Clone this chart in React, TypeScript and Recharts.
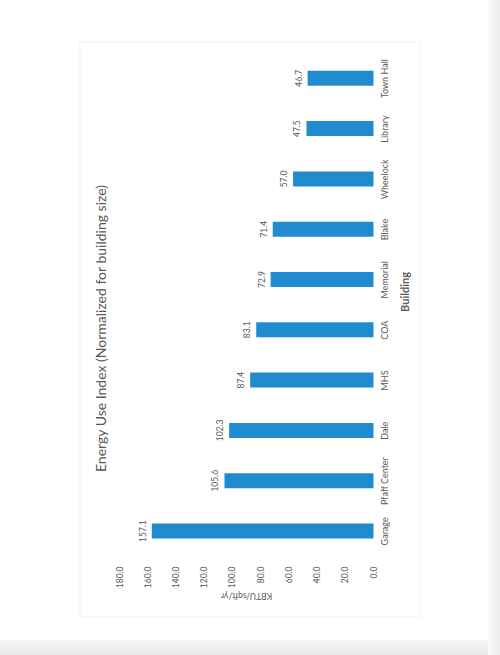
import { BarChart, Bar, XAxis, YAxis, LabelList, Label } from "recharts"

const buildings = ["Garage", "Pfaff Center", "Dale", "MHS", "COA", "Memorial", "Blake", "Wheelock", "Library", "Town Hall"]
const eui = [157.1, 105.6, 102.3, 87.4, 83.1, 72.9, 71.4, 57.0, 47.5, 46.7]
const valueTicks = [0, 20, 40, 60, 80, 100, 120, 140, 160, 180]

const data = buildings.map((name, i) => ({ name, eui: eui[i] }))

// the scanned page shows the chart turned a quarter turn, so it is drawn landscape and rotated
const W = 576
const H = 341
const FONT = "Lato, 'Open Sans', sans-serif"
const BLUE = "#1E8CCF"
const TEXT = "#595959"

export default function App() {
  return (
    <div style={{ position: "fixed", left: 0, top: 0, width: 500, height: 655, background: "#fff", overflow: "hidden" }}>
      <div style={{ position: "absolute", left: 0, right: 0, top: 640, bottom: 0, background: "linear-gradient(#f6f6f6, #e8e8e8)" }} />
      <div style={{ position: "absolute", left: 488, right: 0, top: 0, bottom: 0, background: "linear-gradient(90deg, #fbfbfb, #ececec)" }} />
      <div
        style={{
          position: "absolute",
          left: 79 + H / 2 - W / 2,
          top: 41 + W / 2 - H / 2,
          width: W,
          height: H,
          transform: "rotate(-90deg)",
          border: "1px solid #f2f2f2",
          boxSizing: "border-box",
          fontFamily: FONT,
        }}
      >
        <div
          style={{
            position: "absolute",
            top: 11,
            left: 0,
            width: W,
            textAlign: "center",
            fontSize: 14,
            color: TEXT,
            lineHeight: "18px",
          }}
        >
          Energy Use Index (Normalized for building size)
        </div>
        <BarChart width={W} height={H} data={data} margin={{ top: 39, right: 13, bottom: 8, left: 0 }} barSize={15}>
          <XAxis
            dataKey="name"
            axisLine={false}
            tickLine={false}
            interval={0}
            height={40}
            tick={{ fontSize: 9, fill: TEXT, fontFamily: FONT }}
          >
            <Label value="Building" position="insideBottom" offset={5} dx={13} style={{ fontSize: 11, fontWeight: 700, fill: TEXT, fontFamily: FONT }} />
          </XAxis>
          <YAxis
            domain={[0, 180]}
            ticks={valueTicks}
            width={60}
            axisLine={false}
            tickLine={false}
            tickMargin={4}
            tickFormatter={(v: number) => v.toFixed(1)}
            tick={{ fontSize: 8.5, fill: TEXT, fontFamily: FONT }}
          >
            <Label
              value="KBTU/sqft/yr"
              angle={-90}
              position="insideLeft"
              offset={20}
              style={{ fontSize: 8.5, fill: TEXT, fontFamily: FONT, textAnchor: "middle" }}
            />
          </YAxis>
          <Bar dataKey="eui" fill={BLUE} isAnimationActive={false}>
            <LabelList
              dataKey="eui"
              position="top"
              offset={6}
              formatter={(v: number) => v.toFixed(1)}
              style={{ fontSize: 8.5, fill: TEXT, fontFamily: FONT }}
            />
          </Bar>
        </BarChart>
      </div>
    </div>
  )
}
